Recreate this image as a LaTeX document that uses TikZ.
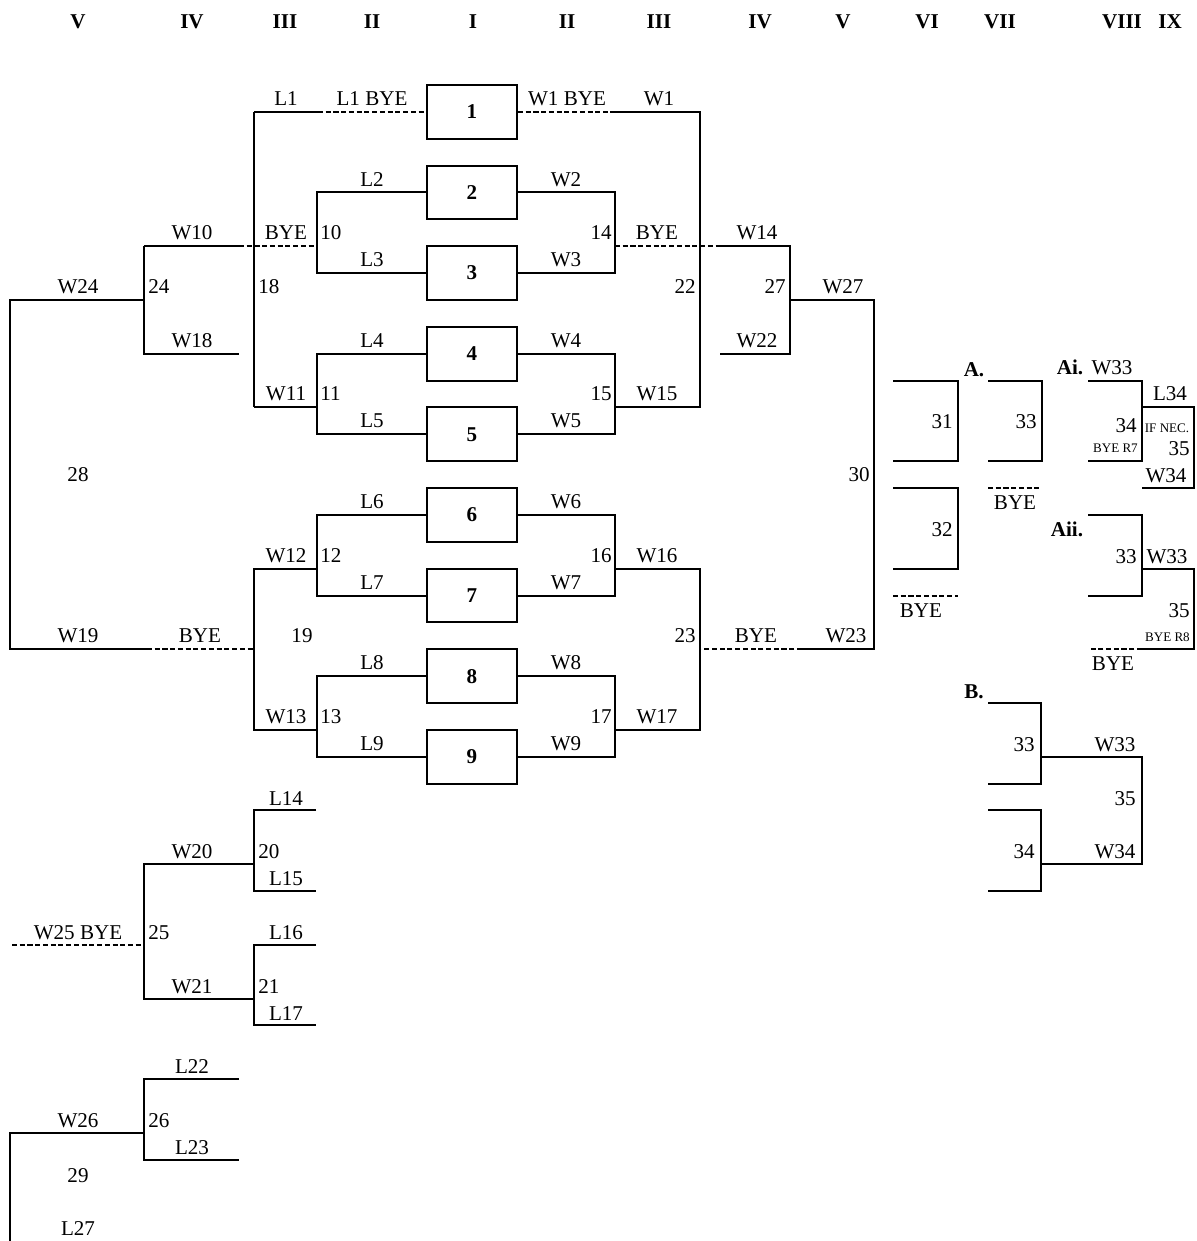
\documentclass[tikz,border=0pt]{standalone}
\usepackage{fontspec}
\setmainfont{Liberation Serif}
\newcommand\lbfont{\fontsize{15.8pt}{18pt}\selectfont}
\newcommand\smfont{\fontsize{9.8pt}{11pt}\selectfont}
\tikzset{
  ln/.style={line width=1.5pt, line join=miter},
  dsh/.style={ln, dash pattern=on 3.8pt off 2pt},
  lab/.style={anchor=base, inner sep=0pt, font=\lbfont},
  labw/.style={lab, anchor=base west},
  labe/.style={lab, anchor=base east},
  hd/.style={lab, font=\lbfont\bfseries},
  sm/.style={labe, font=\smfont},
  mbox/.style={draw, line width=1.5pt, minimum width=67.5pt, minimum height=40.3pt, inner sep=0pt, font=\lbfont\bfseries}
}
\begin{document}
\begin{tikzpicture}[x=0.75pt, y=-20.1525pt]
\useasboundingbox (0,-3.1634) rectangle (1196,43.022);
% headers
\node[hd] (h1) at (78,-2.1) {V};
\node[hd] (h2) at (192,-2.1) {IV};
\node[hd] (h3) at (285,-2.1) {III};
\node[hd] (h4) at (372,-2.1) {II};
\node[hd] (h5) at (473,-2.1) {I};
\node[hd] (h6) at (567,-2.1) {II};
\node[hd] (h7) at (659,-2.1) {III};
\node[hd] (h8) at (760,-2.1) {IV};
\node[hd] (h9) at (843,-2.1) {V};
\node[hd] (h10) at (927,-2.1) {VI};
\node[hd] (h11) at (1000,-2.1) {VII};
\node[hd] (h12) at (1122,-2.1) {VIII};
\node[hd] (h13) at (1170,-2.1) {IX};
% boxes
\node[mbox] (b1) at (472,1) {1};
\node[mbox] (b2) at (472,4) {2};
\node[mbox] (b3) at (472,7) {3};
\node[mbox] (b4) at (472,10) {4};
\node[mbox] (b5) at (472,13) {5};
\node[mbox] (b6) at (472,16) {6};
\node[mbox] (b7) at (472,19) {7};
\node[mbox] (b8) at (472,22) {8};
\node[mbox] (b9) at (472,25) {9};
% ---------------- left side
\coordinate (l1a) at (254,1); \coordinate (l1b) at (318,1);
\draw[ln] (l1a) -- (l1b);
\draw[dsh] (l1b) -- (b1.west);
\node[lab] (tL1) at (286,0.76) {L1};
\node[lab] (tL1b) at (372,0.76) {L1 BYE};
\draw[ln] (b2.west) -- (317,4) -- (317,7) -- (b3.west);
\node[lab] (tL2) at (372,3.76) {L2};
\node[lab] (tL3) at (372,6.76) {L3};
\node[labw] (t10) at (320,5.76) {10};
\coordinate (w10a) at (144,6); \coordinate (w10b) at (239,6); \coordinate (w10c) at (317,6);
\draw[ln] (w10a) -- (w10b);
\draw[dsh] (w10b) -- (w10c);
\node[lab] (tW10) at (192,5.76) {W10};
\node[lab] (tBYE1) at (286,5.76) {BYE};
\draw[ln] (b4.west) -- (317,10) -- (317,13) -- (b5.west);
\node[lab] (tL4) at (372,9.76) {L4};
\node[lab] (tL5) at (372,12.76) {L5};
\node[labw] (t11) at (320,11.76) {11};
\draw[ln] (254,12) -- (317,12);
\node[lab] (tW11) at (286,11.76) {W11};
\draw[ln] (l1a) -- (254,12);
\node[labw] (t18) at (258,7.76) {18};
\draw[ln] (w10a) -- (144,10) -- (239,10);
\node[lab] (tW18) at (192,9.76) {W18};
\node[labw] (t24) at (148,7.76) {24};
\draw[ln] (144,8) -- (10,8) -- (10,21) -- (147,21);
\draw[dsh] (147,21) -- (254,21);
\node[lab] (tW24) at (78,7.76) {W24};
\node[lab] (t28) at (78,14.76) {28};
\node[lab] (tW19) at (78,20.76) {W19};
\node[lab] (tBYE2) at (200,20.76) {BYE};
\draw[ln] (317,18) -- (254,18) -- (254,24) -- (317,24);
\node[lab] (t19) at (302,20.76) {19};
\node[lab] (tW12) at (286,17.76) {W12};
\node[lab] (tW13) at (286,23.76) {W13};
\draw[ln] (b6.west) -- (317,16) -- (317,19) -- (b7.west);
\node[lab] (tL6) at (372,15.76) {L6};
\node[lab] (tL7) at (372,18.76) {L7};
\node[labw] (t12) at (320,17.76) {12};
\draw[ln] (b8.west) -- (317,22) -- (317,25) -- (b9.west);
\node[lab] (tL8) at (372,21.76) {L8};
\node[lab] (tL9) at (372,24.76) {L9};
\node[labw] (t13) at (320,23.76) {13};
% ---------------- right side
\draw[dsh] (b1.east) -- (610,1);
\draw[ln] (610,1) -- (700,1) -- (700,12) -- (615,12);
\node[lab] (tW1b) at (567,0.76) {W1 BYE};
\node[lab] (tW1) at (659,0.76) {W1};
\node[labe] (t22) at (696,7.76) {22};
\node[lab] (tW15) at (657,11.76) {W15};
\draw[ln] (b2.east) -- (615,4) -- (615,7) -- (b3.east);
\node[lab] (tW2) at (566,3.76) {W2};
\node[lab] (tW3) at (566,6.76) {W3};
\node[labe] (t14) at (612,5.76) {14};
\draw[dsh] (615,6) -- (718,6);
\draw[ln] (718,6) -- (790,6) -- (790,10) -- (720,10);
\node[lab] (tBYE3) at (657,5.76) {BYE};
\node[lab] (tW14) at (757,5.76) {W14};
\node[lab] (tW22) at (757,9.76) {W22};
\node[labe] (t27) at (786,7.76) {27};
\draw[ln] (b4.east) -- (615,10) -- (615,13) -- (b5.east);
\node[lab] (tW4) at (566,9.76) {W4};
\node[lab] (tW5) at (566,12.76) {W5};
\node[labe] (t15) at (612,11.76) {15};
\draw[ln] (790,8) -- (874,8) -- (874,21) -- (802,21);
\draw[dsh] (802,21) -- (700,21);
\node[lab] (tW27) at (843,7.76) {W27};
\node[labe] (t30) at (870,14.76) {30};
\node[lab] (tBYE4) at (756,20.76) {BYE};
\node[lab] (tW23) at (846,20.76) {W23};
\draw[ln] (615,18) -- (700,18) -- (700,24) -- (615,24);
\node[lab] (tW16) at (657,17.76) {W16};
\node[lab] (tW17) at (657,23.76) {W17};
\node[labe] (t23) at (696,20.76) {23};
\draw[ln] (b6.east) -- (615,16) -- (615,19) -- (b7.east);
\node[lab] (tW6) at (566,15.76) {W6};
\node[lab] (tW7) at (566,18.76) {W7};
\node[labe] (t16) at (612,17.76) {16};
\draw[ln] (b8.east) -- (615,22) -- (615,25) -- (b9.east);
\node[lab] (tW8) at (566,21.76) {W8};
\node[lab] (tW9) at (566,24.76) {W9};
\node[labe] (t17) at (612,23.76) {17};
% ---------------- right panel A
\draw[ln] (893,11) -- (958,11) -- (958,14) -- (893,14);
\node[labe] (t31) at (953,12.8) {31};
\draw[ln] (893,15) -- (958,15) -- (958,18) -- (893,18);
\node[labe] (t32) at (953,16.8) {32};
\draw[dsh] (893,19) -- (958,19);
\node[lab] (tBYE5) at (921,19.8) {BYE};
\node[hd] (tA) at (974,10.85) {A.};
\draw[ln] (988,11) -- (1042,11) -- (1042,14) -- (988,14);
\node[labe] (t33a) at (1037,12.8) {33};
\draw[dsh] (988,15) -- (1042,15);
\node[lab] (tBYE6) at (1015,15.8) {BYE};
% Ai
\node[hd] (tAi) at (1070,10.76) {Ai.};
\node[lab] (tW33a) at (1112,10.76) {W33};
\draw[ln] (1088,11) -- (1142,11) -- (1142,14) -- (1088,14);
\node[labe] (t34a) at (1137,12.95) {34};
\node[sm] (tR7) at (1138,13.66) {BYE R7};
\draw[ln] (1142,12) -- (1194,12) -- (1194,15) -- (1142,15);
\node[lab] (tL34) at (1170,11.76) {L34};
\node[sm, anchor=base] (tIF) at (1167,12.95) {IF NEC.};
\node[labe] (t35a) at (1190,13.8) {35};
\node[lab] (tW34a) at (1166,14.8) {W34};
% Aii
\node[hd] (tAii) at (1067,16.8) {Aii.};
\draw[ln] (1088,16) -- (1142,16) -- (1142,19) -- (1088,19);
\node[labe] (t33b) at (1137,17.8) {33};
\node[lab] (tW33b) at (1167,17.8) {W33};
\draw[ln] (1142,18) -- (1194,18) -- (1194,21) -- (1142,21);
\draw[dsh] (1142,21) -- (1088,21);
\node[labe] (t35b) at (1190,19.8) {35};
\node[sm] (tR8) at (1190,20.7) {BYE R8};
\node[lab] (tBYE7) at (1113,21.8) {BYE};
% B
\node[hd] (tB) at (974,22.85) {B.};
\draw[ln] (988,23) -- (1041,23) -- (1041,26) -- (988,26);
\node[labe] (t33c) at (1035,24.8) {33};
\draw[ln] (1041,25) -- (1142,25) -- (1142,29) -- (1041,29);
\node[lab] (tW33c) at (1115,24.8) {W33};
\node[labe] (t35c) at (1136,26.8) {35};
\node[lab] (tW34c) at (1115,28.8) {W34};
\draw[ln] (988,27) -- (1041,27) -- (1041,30) -- (988,30);
\node[labe] (t34c) at (1035,28.8) {34};
% ---------------- bottom left
\draw[ln] (316,27) -- (254,27) -- (254,30) -- (316,30);
\node[lab] (tL14) at (286,26.8) {L14};
\node[lab] (tL15) at (286,29.8) {L15};
\node[labw] (t20) at (258,28.8) {20};
\draw[ln] (254,29) -- (144,29) -- (144,34) -- (254,34);
\node[lab] (tW20) at (192,28.8) {W20};
\node[lab] (tW21) at (192,33.8) {W21};
\node[labw] (t25) at (148,31.8) {25};
\draw[dsh] (12,32) -- (144,32);
\node[lab] (tW25) at (78,31.8) {W25 BYE};
\draw[ln] (316,32) -- (254,32) -- (254,35) -- (316,35);
\node[lab] (tL16) at (286,31.8) {L16};
\node[lab] (tL17) at (286,34.8) {L17};
\node[labw] (t21) at (258,33.8) {21};
\draw[ln] (239,37) -- (144,37) -- (144,40) -- (239,40);
\node[lab] (tL22) at (192,36.8) {L22};
\node[lab] (tL23) at (192,39.8) {L23};
\node[labw] (t26) at (148,38.8) {26};
\draw[ln] (144,39) -- (10,39) -- (10,43.022);
\node[lab] (tW26) at (78,38.8) {W26};
\node[lab] (t29) at (78,40.83) {29};
\node[lab] (tL27) at (78,42.8) {L27};
\end{tikzpicture}
\end{document}
